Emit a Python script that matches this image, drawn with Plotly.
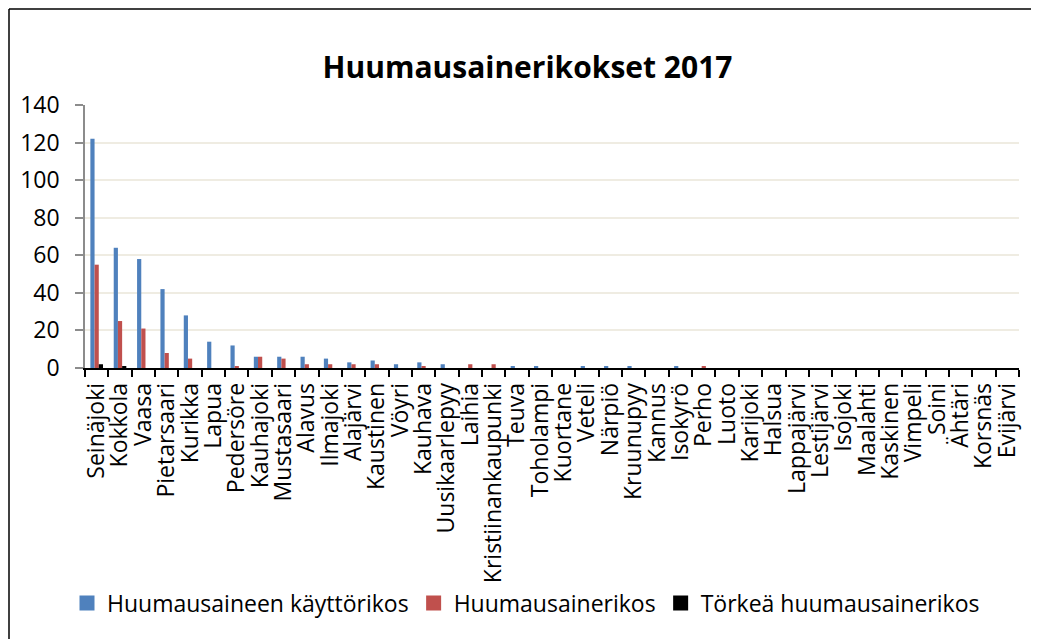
import plotly.graph_objects as go

# kunnat (categories)
kunnat = [
    "Seinäjoki", "Kokkola", "Vaasa", "Pietarsaari", "Kurikka", "Lapua",
    "Pedersöre", "Kauhajoki", "Mustasaari", "Alavus", "Ilmajoki", "Alajärvi",
    "Kaustinen", "Vöyri", "Kauhava", "Uusikaarlepyy", "Laihia",
    "Kristiinankaupunki", "Teuva", "Toholampi", "Kuortane", "Veteli",
    "Närpiö", "Kruunupyy", "Kannus", "Isokyrö", "Perho", "Luoto", "Karijoki",
    "Halsua", "Lappajärvi", "Lestijärvi", "Isojoki", "Maalahti", "Kaskinen",
    "Vimpeli", "Soini", "Ähtäri", "Korsnäs", "Evijärvi",
]

kayttorikos = [122, 64, 58, 42, 28, 14, 12, 6, 6, 6, 5, 3, 4, 2, 3, 2, 0, 0, 1, 1,
               0, 1, 1, 1, 0, 1, 0, 0, 0, 0, 0, 0, 0, 0, 0, 0, 0, 0, 0, 0]
huumausainerikos = [55, 25, 21, 8, 5, 0, 1, 6, 5, 2, 2, 2, 2, 0, 1, 0, 2, 2, 0, 0,
                    0, 0, 0, 0, 0, 0, 1, 0, 0, 0, 0, 0, 0, 0, 0, 0, 0, 0, 0, 0]
torkea = [2, 1, 0, 0, 0, 0, 0, 0, 0, 0, 0, 0, 0, 0, 0, 0, 0, 0, 0, 0,
          0, 0, 0, 0, 0, 0, 0, 0, 0, 0, 0, 0, 0, 0, 0, 0, 0, 0, 0, 0]

series = [
    ("Huumausaineen käyttörikos", kayttorikos, "#4F81BD"),
    ("Huumausainerikos", huumausainerikos, "#C0504D"),
    ("Törkeä huumausainerikos", torkea, "#000000"),
]

FONT = "Open Sans"

fig = go.Figure()
for name, values, color in series:
    fig.add_trace(
        go.Bar(
            x=kunnat,
            y=values,
            name=name,
            marker_color=color,
            marker_line_width=0,
            showlegend=False,
        )
    )

# legend entries with bigger square keys (Excel style)
for name, _, color in series:
    fig.add_trace(
        go.Scatter(
            x=[None],
            y=[None],
            mode="markers",
            name=name,
            marker=dict(symbol="square", size=15, color=color),
        )
    )

# figure pixels (page body adds an 8px offset)
W, H = 1039, 639
L, R, T, B = 77, 28, 97, 279
pw, ph = W - L - R, H - T - B


def px_x(x):
    return (x - L) / pw


def px_y(y):
    return (H - B - y) / ph


fig.update_layout(
    width=W,
    height=H,
    margin=dict(l=L, r=R, t=T, b=B, autoexpand=False),
    paper_bgcolor="white",
    plot_bgcolor="white",
    barmode="group",
    bargap=0.46,
    bargroupgap=0,
    font=dict(family=FONT, color="#000000"),
    title=dict(
        text="<b>Huumausainerikokset 2017</b>",
        font=dict(family=FONT, size=30, color="#000000"),
        x=0.5,
        xanchor="center",
        y=1 - 59 / H,
        yanchor="middle",
    ),
    legend=dict(
        orientation="h",
        x=px_x(59),
        xanchor="left",
        y=px_y(595),
        yanchor="middle",
        font=dict(family=FONT, size=23),
        traceorder="normal",
        itemwidth=30,
    ),
    showlegend=True,
)

fig.update_xaxes(
    type="category",
    tickmode="linear",
    tick0=0,
    dtick=1,
    tickangle=-90,
    tickfont=dict(family=FONT, size=23),
    showline=True,
    linecolor="#000000",
    linewidth=1.5,
    ticks="outside",
    tickson="boundaries",
    ticklen=7,
    tickcolor="#000000",
    tickwidth=1.5,
    showgrid=False,
    ticklabelstandoff=4,
    automargin=False,
)

fig.update_yaxes(
    range=[0, 140],
    dtick=20,
    tickfont=dict(family=FONT, size=23),
    showline=True,
    linecolor="#8C8C8C",
    linewidth=1.5,
    ticks="outside",
    ticklen=8,
    tickcolor="#8C8C8C",
    tickwidth=1.5,
    showgrid=True,
    gridcolor="#EFECE2",
    gridwidth=1.5,
    zeroline=False,
    ticklabelstandoff=11,
    automargin=False,
)

# chart frame (only top and left edges fall inside the window)
fig.add_shape(type="line", xref="paper", yref="paper",
              x0=px_x(1), x1=px_x(W), y0=px_y(1), y1=px_y(1),
              line=dict(color="#000000", width=1.5))
fig.add_shape(type="line", xref="paper", yref="paper",
              x0=px_x(1), x1=px_x(1), y0=px_y(1), y1=px_y(H),
              line=dict(color="#000000", width=1.5))

fig.write_html("out.html")
